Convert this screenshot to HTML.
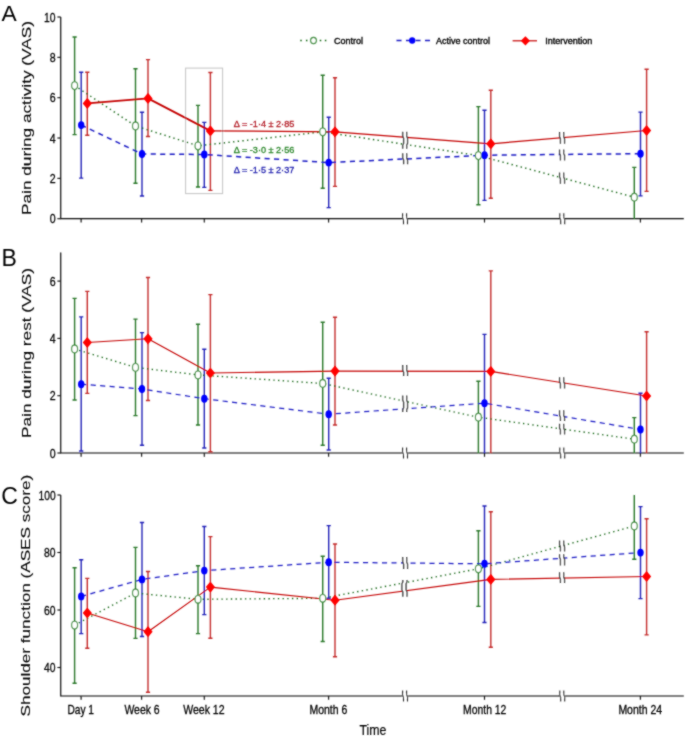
<!DOCTYPE html><html><head><meta charset="utf-8"><style>html,body{margin:0;padding:0;background:#fff;}svg{display:block;}text{font-family:"Liberation Sans",sans-serif;}</style></head><body>
<svg width="685" height="741" viewBox="0 0 685 741">
<defs><filter id="soft" x="0" y="0" width="685" height="741" filterUnits="userSpaceOnUse"><feConvolveMatrix order="3" kernelMatrix="1 2 1 2 12 2 1 2 1" divisor="24" edgeMode="none" preserveAlpha="false"/></filter></defs>
<rect width="685" height="741" fill="#fff"/>
<g filter="url(#soft)">
<text x="1.6" y="20.8" font-size="22.8" fill="#000" text-anchor="start">A</text>
<text x="1.5" y="266.1" font-size="23" fill="#000" text-anchor="start">B</text>
<text x="1.2" y="503.9" font-size="23" fill="#000" text-anchor="start">C</text>
<text transform="translate(30.6 215) rotate(-90)" x="0" y="0" font-size="13.2" fill="#000" stroke="#000" stroke-width="0.1" textLength="194" lengthAdjust="spacingAndGlyphs">Pain during activity (VAS)</text>
<text transform="translate(30.6 438) rotate(-90)" x="0" y="0" font-size="13.2" fill="#000" stroke="#000" stroke-width="0.1" textLength="170" lengthAdjust="spacingAndGlyphs">Pain during rest (VAS)</text>
<text transform="translate(30.4 716.5) rotate(-90)" x="0" y="0" font-size="13.2" fill="#000" stroke="#000" stroke-width="0.1" textLength="241.8" lengthAdjust="spacingAndGlyphs">Shoulder function (ASES score)</text>
<text x="49.7" y="223.4" font-size="13" fill="#000" text-anchor="start" textLength="5.9" lengthAdjust="spacingAndGlyphs" stroke="#000" stroke-width="0.3">0</text>
<path d="M57.4 218.7H60.7" stroke="#0a0a0a" stroke-width="1.1"/>
<text x="49.7" y="183.06" font-size="13" fill="#000" text-anchor="start" textLength="5.9" lengthAdjust="spacingAndGlyphs" stroke="#000" stroke-width="0.3">2</text>
<path d="M57.4 178.36H60.7" stroke="#0a0a0a" stroke-width="1.1"/>
<text x="49.7" y="142.72" font-size="13" fill="#000" text-anchor="start" textLength="5.9" lengthAdjust="spacingAndGlyphs" stroke="#000" stroke-width="0.3">4</text>
<path d="M57.4 138.02H60.7" stroke="#0a0a0a" stroke-width="1.1"/>
<text x="49.7" y="102.38" font-size="13" fill="#000" text-anchor="start" textLength="5.9" lengthAdjust="spacingAndGlyphs" stroke="#000" stroke-width="0.3">6</text>
<path d="M57.4 97.68H60.7" stroke="#0a0a0a" stroke-width="1.1"/>
<text x="49.7" y="62.04" font-size="13" fill="#000" text-anchor="start" textLength="5.9" lengthAdjust="spacingAndGlyphs" stroke="#000" stroke-width="0.3">8</text>
<path d="M57.4 57.34H60.7" stroke="#0a0a0a" stroke-width="1.1"/>
<text x="44.1" y="21.7" font-size="13" fill="#000" text-anchor="start" textLength="11.5" lengthAdjust="spacingAndGlyphs" stroke="#000" stroke-width="0.3">10</text>
<path d="M57.4 17H60.7" stroke="#0a0a0a" stroke-width="1.1"/>
<text x="49.7" y="457.7" font-size="13" fill="#000" text-anchor="start" textLength="5.9" lengthAdjust="spacingAndGlyphs" stroke="#000" stroke-width="0.3">0</text>
<path d="M57.4 453H60.7" stroke="#0a0a0a" stroke-width="1.1"/>
<text x="49.7" y="400.4" font-size="13" fill="#000" text-anchor="start" textLength="5.9" lengthAdjust="spacingAndGlyphs" stroke="#000" stroke-width="0.3">2</text>
<path d="M57.4 395.7H60.7" stroke="#0a0a0a" stroke-width="1.1"/>
<text x="49.7" y="343.1" font-size="13" fill="#000" text-anchor="start" textLength="5.9" lengthAdjust="spacingAndGlyphs" stroke="#000" stroke-width="0.3">4</text>
<path d="M57.4 338.4H60.7" stroke="#0a0a0a" stroke-width="1.1"/>
<text x="49.7" y="285.8" font-size="13" fill="#000" text-anchor="start" textLength="5.9" lengthAdjust="spacingAndGlyphs" stroke="#000" stroke-width="0.3">6</text>
<path d="M57.4 281.1H60.7" stroke="#0a0a0a" stroke-width="1.1"/>
<text x="44.1" y="672.2" font-size="13" fill="#000" text-anchor="start" textLength="11.5" lengthAdjust="spacingAndGlyphs" stroke="#000" stroke-width="0.3">40</text>
<path d="M57.4 667.5H60.7" stroke="#0a0a0a" stroke-width="1.1"/>
<text x="44.1" y="614.7" font-size="13" fill="#000" text-anchor="start" textLength="11.5" lengthAdjust="spacingAndGlyphs" stroke="#000" stroke-width="0.3">60</text>
<path d="M57.4 610H60.7" stroke="#0a0a0a" stroke-width="1.1"/>
<text x="44.1" y="557.2" font-size="13" fill="#000" text-anchor="start" textLength="11.5" lengthAdjust="spacingAndGlyphs" stroke="#000" stroke-width="0.3">80</text>
<path d="M57.4 552.5H60.7" stroke="#0a0a0a" stroke-width="1.1"/>
<text x="38.5" y="499.7" font-size="13" fill="#000" text-anchor="start" textLength="17.1" lengthAdjust="spacingAndGlyphs" stroke="#000" stroke-width="0.3">100</text>
<path d="M57.4 495H60.7" stroke="#0a0a0a" stroke-width="1.1"/>
<rect x="185.6" y="68.1" width="37" height="125.5" fill="none" stroke="#c4c4c4" stroke-width="1"/>
<path d="M60.7 17V218.7H683.8" stroke="#0a0a0a" stroke-width="1.2" fill="none"/>
<path d="M81.1 218.7V222.5" stroke="#0a0a0a" stroke-width="1.1"/>
<path d="M141.6 218.7V222.5" stroke="#0a0a0a" stroke-width="1.1"/>
<path d="M204.3 218.7V222.5" stroke="#0a0a0a" stroke-width="1.1"/>
<path d="M328.6 218.7V222.5" stroke="#0a0a0a" stroke-width="1.1"/>
<path d="M484.5 218.7V222.5" stroke="#0a0a0a" stroke-width="1.1"/>
<path d="M640.4 218.7V222.5" stroke="#0a0a0a" stroke-width="1.1"/>
<rect x="402.8" y="217.2" width="4.5" height="3" fill="#fff"/>
<path d="M402.6 213.2L402.6 217.7L403.5 219.7L403.5 224.2" stroke="#2a2a2a" stroke-width="1.1" fill="none"/>
<path d="M406.6 213.2L406.6 217.7L407.5 219.7L407.5 224.2" stroke="#2a2a2a" stroke-width="1.1" fill="none"/>
<rect x="560" y="217.2" width="4.5" height="3" fill="#fff"/>
<path d="M559.8 213.2L559.8 217.7L560.7 219.7L560.7 224.2" stroke="#2a2a2a" stroke-width="1.1" fill="none"/>
<path d="M563.8 213.2L563.8 217.7L564.7 219.7L564.7 224.2" stroke="#2a2a2a" stroke-width="1.1" fill="none"/>
<path d="M74.6 37V134.6M72.5 37H76.7M72.5 134.6H76.7" stroke="#2a782a" stroke-width="1.4" fill="none"/>
<path d="M81.2 72.2V178.1M79.1 72.2H83.3M79.1 178.1H83.3" stroke="#2424b8" stroke-width="1.4" fill="none"/>
<path d="M87.3 72.2V135.3M85.2 72.2H89.4M85.2 135.3H89.4" stroke="#c42c2c" stroke-width="1.4" fill="none"/>
<path d="M135.5 68.8V183.2M133.4 68.8H137.6M133.4 183.2H137.6" stroke="#2a782a" stroke-width="1.4" fill="none"/>
<path d="M142 112.3V196M139.9 112.3H144.1M139.9 196H144.1" stroke="#2424b8" stroke-width="1.4" fill="none"/>
<path d="M148 59.6V136.5M145.9 59.6H150.1M145.9 136.5H150.1" stroke="#c42c2c" stroke-width="1.4" fill="none"/>
<path d="M198 105.4V187M195.9 105.4H200.1M195.9 187H200.1" stroke="#2a782a" stroke-width="1.4" fill="none"/>
<path d="M204.3 122.4V187.4M202.2 122.4H206.4M202.2 187.4H206.4" stroke="#2424b8" stroke-width="1.4" fill="none"/>
<path d="M210.4 72.5V190.4M208.3 72.5H212.5M208.3 190.4H212.5" stroke="#c42c2c" stroke-width="1.4" fill="none"/>
<path d="M322.7 75.3V188.2M320.6 75.3H324.8M320.6 188.2H324.8" stroke="#2a782a" stroke-width="1.4" fill="none"/>
<path d="M328.7 117.2V207.6M326.6 117.2H330.8M326.6 207.6H330.8" stroke="#2424b8" stroke-width="1.4" fill="none"/>
<path d="M335 77.8V186.4M332.9 77.8H337.1M332.9 186.4H337.1" stroke="#c42c2c" stroke-width="1.4" fill="none"/>
<path d="M478.4 106.6V204.7M476.3 106.6H480.5M476.3 204.7H480.5" stroke="#2a782a" stroke-width="1.4" fill="none"/>
<path d="M484.5 110.2V200.4M482.4 110.2H486.6M482.4 200.4H486.6" stroke="#2424b8" stroke-width="1.4" fill="none"/>
<path d="M490.8 90.2V198.2M488.7 90.2H492.9M488.7 198.2H492.9" stroke="#c42c2c" stroke-width="1.4" fill="none"/>
<path d="M634.3 167.4V218.7M632.2 167.4H636.4" stroke="#2a782a" stroke-width="1.4" fill="none"/>
<path d="M640.5 112.1V195.9M638.4 112.1H642.6M638.4 195.9H642.6" stroke="#2424b8" stroke-width="1.4" fill="none"/>
<path d="M646.6 69.2V191.4M644.5 69.2H648.7M644.5 191.4H648.7" stroke="#c42c2c" stroke-width="1.4" fill="none"/>
<polyline points="74.6,85.6 135.5,126 198,145.8 322.7,131.8 478.4,155.6 634.3,197.2" fill="none" stroke="#146414" stroke-width="1.45" stroke-dasharray="1.35 3.35" stroke-linecap="butt"/>
<polyline points="81.2,125.1 142,154 204.3,154.5 328.7,162.6 484.5,155.2 640.5,153.7" fill="none" stroke="#1a1ac4" stroke-width="1.5" stroke-dasharray="5.1 4.4" stroke-linecap="butt"/>
<polyline points="87.3,103.4 148,98.4" fill="none" stroke="#c40000" stroke-width="1.8" stroke-linecap="round"/>
<polyline points="148,98.4 210.4,130.9" fill="none" stroke="#c40000" stroke-width="1.8" stroke-linecap="round"/>
<polyline points="210.4,130.9 335,131.8" fill="none" stroke="#c40000" stroke-width="1.25" stroke-linecap="round"/>
<polyline points="335,131.8 490.8,143.8" fill="none" stroke="#c40000" stroke-width="1.25" stroke-linecap="round"/>
<polyline points="490.8,143.8 646.6,130.5" fill="none" stroke="#c40000" stroke-width="1.25" stroke-linecap="round"/>
<rect x="403.2" y="132.2" width="3.8" height="16.1" fill="#fff"/>
<path d="M402.8 131.7V136.15L403.7 138.15V143.3L402.8 145.3V148.8" stroke="#161616" stroke-width="1.2" fill="none"/>
<path d="M406.6 131.7V136.15L407.5 138.15V143.3L406.6 145.3V148.8" stroke="#161616" stroke-width="1.2" fill="none"/>
<rect x="403.2" y="153.7" width="3.8" height="10" fill="#fff"/>
<path d="M402.8 153.2V158L403.7 160V164.2" stroke="#161616" stroke-width="1.2" fill="none"/>
<path d="M406.6 153.2V158L407.5 160V164.2" stroke="#161616" stroke-width="1.2" fill="none"/>
<rect x="560" y="132.6" width="4" height="10.7" fill="#fff"/>
<path d="M559.6 132.1V136.72L560.5 138.72V143.8" stroke="#161616" stroke-width="1.2" fill="none"/>
<path d="M563.6 132.1V136.72L564.5 138.72V143.8" stroke="#161616" stroke-width="1.2" fill="none"/>
<rect x="560" y="149.9" width="4" height="10.1" fill="#fff"/>
<path d="M559.6 149.4V153.45L560.5 155.45V160.5" stroke="#161616" stroke-width="1.2" fill="none"/>
<path d="M563.6 149.4V153.45L564.5 155.45V160.5" stroke="#161616" stroke-width="1.2" fill="none"/>
<rect x="560" y="173.1" width="4" height="10.2" fill="#fff"/>
<path d="M559.6 172.6V176.91L560.5 178.91V183.8" stroke="#161616" stroke-width="1.2" fill="none"/>
<path d="M563.6 172.6V176.91L564.5 178.91V183.8" stroke="#161616" stroke-width="1.2" fill="none"/>
<ellipse cx="74.6" cy="85.6" rx="2.95" ry="3.85" fill="#fff" stroke="#2f8a2f" stroke-width="1.1"/>
<ellipse cx="135.5" cy="126" rx="2.95" ry="3.85" fill="#fff" stroke="#2f8a2f" stroke-width="1.1"/>
<ellipse cx="198" cy="145.8" rx="2.95" ry="3.85" fill="#fff" stroke="#2f8a2f" stroke-width="1.1"/>
<ellipse cx="322.7" cy="131.8" rx="2.95" ry="3.85" fill="#fff" stroke="#2f8a2f" stroke-width="1.1"/>
<ellipse cx="478.4" cy="155.6" rx="2.95" ry="3.85" fill="#fff" stroke="#2f8a2f" stroke-width="1.1"/>
<ellipse cx="634.3" cy="197.2" rx="2.95" ry="3.85" fill="#fff" stroke="#2f8a2f" stroke-width="1.1"/>
<ellipse cx="81.2" cy="125.1" rx="3.2" ry="3.95" fill="#0000ff"/>
<ellipse cx="142" cy="154" rx="3.2" ry="3.95" fill="#0000ff"/>
<ellipse cx="204.3" cy="154.5" rx="3.2" ry="3.95" fill="#0000ff"/>
<ellipse cx="328.7" cy="162.6" rx="3.2" ry="3.95" fill="#0000ff"/>
<ellipse cx="484.5" cy="155.2" rx="3.2" ry="3.95" fill="#0000ff"/>
<ellipse cx="640.5" cy="153.7" rx="3.2" ry="3.95" fill="#0000ff"/>
<path d="M87.3 97.8L91.9 103.4L87.3 109L82.7 103.4Z" fill="#ff0000"/>
<path d="M148 92.8L152.6 98.4L148 104L143.4 98.4Z" fill="#ff0000"/>
<path d="M210.4 125.3L215 130.9L210.4 136.5L205.8 130.9Z" fill="#ff0000"/>
<path d="M335 126.2L339.6 131.8L335 137.4L330.4 131.8Z" fill="#ff0000"/>
<path d="M490.8 138.2L495.4 143.8L490.8 149.4L486.2 143.8Z" fill="#ff0000"/>
<path d="M646.6 124.9L651.2 130.5L646.6 136.1L642 130.5Z" fill="#ff0000"/>
<path d="M60.7 252.4V453H683.8" stroke="#0a0a0a" stroke-width="1.2" fill="none"/>
<path d="M81.1 453V456.8" stroke="#0a0a0a" stroke-width="1.1"/>
<path d="M141.6 453V456.8" stroke="#0a0a0a" stroke-width="1.1"/>
<path d="M204.3 453V456.8" stroke="#0a0a0a" stroke-width="1.1"/>
<path d="M328.6 453V456.8" stroke="#0a0a0a" stroke-width="1.1"/>
<path d="M484.5 453V456.8" stroke="#0a0a0a" stroke-width="1.1"/>
<path d="M640.4 453V456.8" stroke="#0a0a0a" stroke-width="1.1"/>
<rect x="402.8" y="451.5" width="4.5" height="3" fill="#fff"/>
<path d="M402.6 447.5L402.6 452L403.5 454L403.5 458.5" stroke="#2a2a2a" stroke-width="1.1" fill="none"/>
<path d="M406.6 447.5L406.6 452L407.5 454L407.5 458.5" stroke="#2a2a2a" stroke-width="1.1" fill="none"/>
<rect x="560" y="451.5" width="4.5" height="3" fill="#fff"/>
<path d="M559.8 447.5L559.8 452L560.7 454L560.7 458.5" stroke="#2a2a2a" stroke-width="1.1" fill="none"/>
<path d="M563.8 447.5L563.8 452L564.7 454L564.7 458.5" stroke="#2a2a2a" stroke-width="1.1" fill="none"/>
<path d="M74.6 298.4V400M72.5 298.4H76.7M72.5 400H76.7" stroke="#2a782a" stroke-width="1.4" fill="none"/>
<path d="M81.2 316.9V451M79.1 316.9H83.3M79.1 451H83.3" stroke="#2424b8" stroke-width="1.4" fill="none"/>
<path d="M87.3 291.4V393.4M85.2 291.4H89.4M85.2 393.4H89.4" stroke="#c42c2c" stroke-width="1.4" fill="none"/>
<path d="M135.5 319.1V415.6M133.4 319.1H137.6M133.4 415.6H137.6" stroke="#2a782a" stroke-width="1.4" fill="none"/>
<path d="M142 332.6V445.2M139.9 332.6H144.1M139.9 445.2H144.1" stroke="#2424b8" stroke-width="1.4" fill="none"/>
<path d="M148 277.5V400.5M145.9 277.5H150.1M145.9 400.5H150.1" stroke="#c42c2c" stroke-width="1.4" fill="none"/>
<path d="M198 324.2V425M195.9 324.2H200.1M195.9 425H200.1" stroke="#2a782a" stroke-width="1.4" fill="none"/>
<path d="M204.3 349.3V448M202.2 349.3H206.4M202.2 448H206.4" stroke="#2424b8" stroke-width="1.4" fill="none"/>
<path d="M210.4 294.6V451.7M208.3 294.6H212.5M208.3 451.7H212.5" stroke="#c42c2c" stroke-width="1.4" fill="none"/>
<path d="M322.7 322.2V445.2M320.6 322.2H324.8M320.6 445.2H324.8" stroke="#2a782a" stroke-width="1.4" fill="none"/>
<path d="M328.7 378.3V450M326.6 378.3H330.8M326.6 450H330.8" stroke="#2424b8" stroke-width="1.4" fill="none"/>
<path d="M335 317.2V425M332.9 317.2H337.1M332.9 425H337.1" stroke="#c42c2c" stroke-width="1.4" fill="none"/>
<path d="M478.4 381.2V453M476.3 381.2H480.5" stroke="#2a782a" stroke-width="1.4" fill="none"/>
<path d="M484.5 334.4V453M482.4 334.4H486.6" stroke="#2424b8" stroke-width="1.4" fill="none"/>
<path d="M490.8 270.9V453M488.7 270.9H492.9" stroke="#c42c2c" stroke-width="1.4" fill="none"/>
<path d="M634.3 417.6V453M632.2 417.6H636.4" stroke="#2a782a" stroke-width="1.4" fill="none"/>
<path d="M640.5 393.2V453M638.4 393.2H642.6" stroke="#2424b8" stroke-width="1.4" fill="none"/>
<path d="M646.6 331.7V453M644.5 331.7H648.7" stroke="#c42c2c" stroke-width="1.4" fill="none"/>
<polyline points="74.6,349 135.5,367.4 198,374.9 322.7,383.5 478.4,417.2 634.3,439.2" fill="none" stroke="#146414" stroke-width="1.35" stroke-dasharray="1.35 3.35" stroke-linecap="butt"/>
<polyline points="81.2,384.2 142,389 204.3,398.7 328.7,414.2 484.5,403.2 640.5,429.5" fill="none" stroke="#1a1ac4" stroke-width="1.2" stroke-dasharray="5.1 4.4" stroke-linecap="butt"/>
<polyline points="87.3,342.5 148,338.8" fill="none" stroke="#c40000" stroke-width="1.15" stroke-linecap="round"/>
<polyline points="148,338.8 210.4,373" fill="none" stroke="#c40000" stroke-width="1.15" stroke-linecap="round"/>
<polyline points="210.4,373 335,371.1" fill="none" stroke="#c40000" stroke-width="1.15" stroke-linecap="round"/>
<polyline points="335,371.1 490.8,371.4" fill="none" stroke="#c40000" stroke-width="1.15" stroke-linecap="round"/>
<polyline points="490.8,371.4 646.6,396" fill="none" stroke="#c40000" stroke-width="1.15" stroke-linecap="round"/>
<rect x="403.2" y="365.6" width="3.8" height="9.9" fill="#fff"/>
<path d="M402.8 365.1V370.23L403.7 372.23V376" stroke="#161616" stroke-width="1.2" fill="none"/>
<path d="M406.6 365.1V370.23L407.5 372.23V376" stroke="#161616" stroke-width="1.2" fill="none"/>
<rect x="403.2" y="395.9" width="3.8" height="15.6" fill="#fff"/>
<path d="M402.8 395.4V400.2L403.7 402.2V407.85L402.8 409.85V412" stroke="#161616" stroke-width="1.2" fill="none"/>
<path d="M406.6 395.4V400.2L407.5 402.2V407.85L406.6 409.85V412" stroke="#161616" stroke-width="1.2" fill="none"/>
<rect x="560" y="377.8" width="4" height="10.3" fill="#fff"/>
<path d="M559.6 377.3V381.64L560.5 383.64V388.6" stroke="#161616" stroke-width="1.2" fill="none"/>
<path d="M563.6 377.3V381.64L564.5 383.64V388.6" stroke="#161616" stroke-width="1.2" fill="none"/>
<rect x="560" y="410.7" width="4" height="9.8" fill="#fff"/>
<path d="M559.6 410.2V415.27L560.5 417.27V421" stroke="#161616" stroke-width="1.2" fill="none"/>
<path d="M563.6 410.2V415.27L564.5 417.27V421" stroke="#161616" stroke-width="1.2" fill="none"/>
<rect x="560" y="424.2" width="4" height="9.8" fill="#fff"/>
<path d="M559.6 423.7V428L560.5 430V434.5" stroke="#161616" stroke-width="1.2" fill="none"/>
<path d="M563.6 423.7V428L564.5 430V434.5" stroke="#161616" stroke-width="1.2" fill="none"/>
<ellipse cx="74.6" cy="349" rx="2.95" ry="3.85" fill="#fff" stroke="#2f8a2f" stroke-width="1.1"/>
<ellipse cx="135.5" cy="367.4" rx="2.95" ry="3.85" fill="#fff" stroke="#2f8a2f" stroke-width="1.1"/>
<ellipse cx="198" cy="374.9" rx="2.95" ry="3.85" fill="#fff" stroke="#2f8a2f" stroke-width="1.1"/>
<ellipse cx="322.7" cy="383.5" rx="2.95" ry="3.85" fill="#fff" stroke="#2f8a2f" stroke-width="1.1"/>
<ellipse cx="478.4" cy="417.2" rx="2.95" ry="3.85" fill="#fff" stroke="#2f8a2f" stroke-width="1.1"/>
<ellipse cx="634.3" cy="439.2" rx="2.95" ry="3.85" fill="#fff" stroke="#2f8a2f" stroke-width="1.1"/>
<ellipse cx="81.2" cy="384.2" rx="3.2" ry="3.95" fill="#0000ff"/>
<ellipse cx="142" cy="389" rx="3.2" ry="3.95" fill="#0000ff"/>
<ellipse cx="204.3" cy="398.7" rx="3.2" ry="3.95" fill="#0000ff"/>
<ellipse cx="328.7" cy="414.2" rx="3.2" ry="3.95" fill="#0000ff"/>
<ellipse cx="484.5" cy="403.2" rx="3.2" ry="3.95" fill="#0000ff"/>
<ellipse cx="640.5" cy="429.5" rx="3.2" ry="3.95" fill="#0000ff"/>
<path d="M87.3 336.9L91.9 342.5L87.3 348.1L82.7 342.5Z" fill="#ff0000"/>
<path d="M148 333.2L152.6 338.8L148 344.4L143.4 338.8Z" fill="#ff0000"/>
<path d="M210.4 367.4L215 373L210.4 378.6L205.8 373Z" fill="#ff0000"/>
<path d="M335 365.5L339.6 371.1L335 376.7L330.4 371.1Z" fill="#ff0000"/>
<path d="M490.8 365.8L495.4 371.4L490.8 377L486.2 371.4Z" fill="#ff0000"/>
<path d="M646.6 390.4L651.2 396L646.6 401.6L642 396Z" fill="#ff0000"/>
<path d="M60.7 495V696H683.8" stroke="#0a0a0a" stroke-width="1.2" fill="none"/>
<path d="M81.1 696V699.8" stroke="#0a0a0a" stroke-width="1.1"/>
<path d="M141.6 696V699.8" stroke="#0a0a0a" stroke-width="1.1"/>
<path d="M204.3 696V699.8" stroke="#0a0a0a" stroke-width="1.1"/>
<path d="M328.6 696V699.8" stroke="#0a0a0a" stroke-width="1.1"/>
<path d="M484.5 696V699.8" stroke="#0a0a0a" stroke-width="1.1"/>
<path d="M640.4 696V699.8" stroke="#0a0a0a" stroke-width="1.1"/>
<rect x="402.8" y="694.5" width="4.5" height="3" fill="#fff"/>
<path d="M402.6 690.5L402.6 695L403.5 697L403.5 701.5" stroke="#2a2a2a" stroke-width="1.1" fill="none"/>
<path d="M406.6 690.5L406.6 695L407.5 697L407.5 701.5" stroke="#2a2a2a" stroke-width="1.1" fill="none"/>
<rect x="560" y="694.5" width="4.5" height="3" fill="#fff"/>
<path d="M559.8 690.5L559.8 695L560.7 697L560.7 701.5" stroke="#2a2a2a" stroke-width="1.1" fill="none"/>
<path d="M563.8 690.5L563.8 695L564.7 697L564.7 701.5" stroke="#2a2a2a" stroke-width="1.1" fill="none"/>
<path d="M74.6 567.7V683.2M72.5 567.7H76.7M72.5 683.2H76.7" stroke="#2a782a" stroke-width="1.4" fill="none"/>
<path d="M81.2 559.7V633.6M79.1 559.7H83.3M79.1 633.6H83.3" stroke="#2424b8" stroke-width="1.4" fill="none"/>
<path d="M87.3 578.4V648.2M85.2 578.4H89.4M85.2 648.2H89.4" stroke="#c42c2c" stroke-width="1.4" fill="none"/>
<path d="M135.5 547.4V638.4M133.4 547.4H137.6M133.4 638.4H137.6" stroke="#2a782a" stroke-width="1.4" fill="none"/>
<path d="M142 522.5V636.5M139.9 522.5H144.1M139.9 636.5H144.1" stroke="#2424b8" stroke-width="1.4" fill="none"/>
<path d="M148 571.5V692.3M145.9 571.5H150.1M145.9 692.3H150.1" stroke="#c42c2c" stroke-width="1.4" fill="none"/>
<path d="M198 565.8V633.6M195.9 565.8H200.1M195.9 633.6H200.1" stroke="#2a782a" stroke-width="1.4" fill="none"/>
<path d="M204.3 526.5V614.6M202.2 526.5H206.4M202.2 614.6H206.4" stroke="#2424b8" stroke-width="1.4" fill="none"/>
<path d="M210.4 536.6V638.2M208.3 536.6H212.5M208.3 638.2H212.5" stroke="#c42c2c" stroke-width="1.4" fill="none"/>
<path d="M322.7 556.3V641.5M320.6 556.3H324.8M320.6 641.5H324.8" stroke="#2a782a" stroke-width="1.4" fill="none"/>
<path d="M328.7 525.6V598.3M326.6 525.6H330.8M326.6 598.3H330.8" stroke="#2424b8" stroke-width="1.4" fill="none"/>
<path d="M335 544V656.8M332.9 544H337.1M332.9 656.8H337.1" stroke="#c42c2c" stroke-width="1.4" fill="none"/>
<path d="M478.4 530.8V606.4M476.3 530.8H480.5M476.3 606.4H480.5" stroke="#2a782a" stroke-width="1.4" fill="none"/>
<path d="M484.5 506V622.5M482.4 506H486.6M482.4 622.5H486.6" stroke="#2424b8" stroke-width="1.4" fill="none"/>
<path d="M490.8 511.8V647.3M488.7 511.8H492.9M488.7 647.3H492.9" stroke="#c42c2c" stroke-width="1.4" fill="none"/>
<path d="M634.3 495V559.3M632.2 559.3H636.4" stroke="#2a782a" stroke-width="1.4" fill="none"/>
<path d="M640.5 506.6V598.6M638.4 506.6H642.6M638.4 598.6H642.6" stroke="#2424b8" stroke-width="1.4" fill="none"/>
<path d="M646.6 518.7V634.9M644.5 518.7H648.7M644.5 634.9H648.7" stroke="#c42c2c" stroke-width="1.4" fill="none"/>
<polyline points="74.6,625.1 135.5,593 198,599.3 322.7,598.3 478.4,568.8 634.3,526" fill="none" stroke="#146414" stroke-width="1.35" stroke-dasharray="1.35 3.35" stroke-linecap="butt"/>
<polyline points="81.2,596.4 142,579.4 204.3,570.6 328.7,562.3 484.5,563.8 640.5,552.6" fill="none" stroke="#1a1ac4" stroke-width="1.25" stroke-dasharray="5.1 4.4" stroke-linecap="butt"/>
<polyline points="87.3,613 148,631.7" fill="none" stroke="#c40000" stroke-width="1.15" stroke-linecap="round"/>
<polyline points="148,631.7 210.4,587.1" fill="none" stroke="#c40000" stroke-width="1.15" stroke-linecap="round"/>
<polyline points="210.4,587.1 335,600.2" fill="none" stroke="#c40000" stroke-width="1.15" stroke-linecap="round"/>
<polyline points="335,600.2 490.8,579.4" fill="none" stroke="#c40000" stroke-width="1.15" stroke-linecap="round"/>
<polyline points="490.8,579.4 646.6,576.5" fill="none" stroke="#c40000" stroke-width="1.15" stroke-linecap="round"/>
<rect x="403.2" y="557.5" width="3.8" height="10.9" fill="#fff"/>
<path d="M402.8 557V562.03L403.7 564.03V568.9" stroke="#161616" stroke-width="1.2" fill="none"/>
<path d="M406.6 557V562.03L407.5 564.03V568.9" stroke="#161616" stroke-width="1.2" fill="none"/>
<rect x="402.4" y="580.5" width="4" height="15.7" fill="#fff"/>
<path d="M402.9 580V581.8L402 583.8V589.92L402.9 591.92V596.7" stroke="#161616" stroke-width="1.2" fill="none"/>
<path d="M406.9 580V581.8L406 583.8V589.92L406.9 591.92V596.7" stroke="#161616" stroke-width="1.2" fill="none"/>
<rect x="560" y="541.1" width="4" height="9.9" fill="#fff"/>
<path d="M559.6 540.6V544.85L560.5 546.85V551.5" stroke="#161616" stroke-width="1.2" fill="none"/>
<path d="M563.6 540.6V544.85L564.5 546.85V551.5" stroke="#161616" stroke-width="1.2" fill="none"/>
<rect x="560" y="554.8" width="4" height="10.3" fill="#fff"/>
<path d="M559.6 554.3V557.24L560.5 559.24V565.6" stroke="#161616" stroke-width="1.2" fill="none"/>
<path d="M563.6 554.3V557.24L564.5 559.24V565.6" stroke="#161616" stroke-width="1.2" fill="none"/>
<rect x="560" y="572.8" width="4" height="9.8" fill="#fff"/>
<path d="M559.6 572.3V577.07L560.5 579.07V583.1" stroke="#161616" stroke-width="1.2" fill="none"/>
<path d="M563.6 572.3V577.07L564.5 579.07V583.1" stroke="#161616" stroke-width="1.2" fill="none"/>
<ellipse cx="74.6" cy="625.1" rx="2.95" ry="3.85" fill="#fff" stroke="#2f8a2f" stroke-width="1.1"/>
<ellipse cx="135.5" cy="593" rx="2.95" ry="3.85" fill="#fff" stroke="#2f8a2f" stroke-width="1.1"/>
<ellipse cx="198" cy="599.3" rx="2.95" ry="3.85" fill="#fff" stroke="#2f8a2f" stroke-width="1.1"/>
<ellipse cx="322.7" cy="598.3" rx="2.95" ry="3.85" fill="#fff" stroke="#2f8a2f" stroke-width="1.1"/>
<ellipse cx="478.4" cy="568.8" rx="2.95" ry="3.85" fill="#fff" stroke="#2f8a2f" stroke-width="1.1"/>
<ellipse cx="634.3" cy="526" rx="2.95" ry="3.85" fill="#fff" stroke="#2f8a2f" stroke-width="1.1"/>
<ellipse cx="81.2" cy="596.4" rx="3.2" ry="3.95" fill="#0000ff"/>
<ellipse cx="142" cy="579.4" rx="3.2" ry="3.95" fill="#0000ff"/>
<ellipse cx="204.3" cy="570.6" rx="3.2" ry="3.95" fill="#0000ff"/>
<ellipse cx="328.7" cy="562.3" rx="3.2" ry="3.95" fill="#0000ff"/>
<ellipse cx="484.5" cy="563.8" rx="3.2" ry="3.95" fill="#0000ff"/>
<ellipse cx="640.5" cy="552.6" rx="3.2" ry="3.95" fill="#0000ff"/>
<path d="M87.3 607.4L91.9 613L87.3 618.6L82.7 613Z" fill="#ff0000"/>
<path d="M148 626.1L152.6 631.7L148 637.3L143.4 631.7Z" fill="#ff0000"/>
<path d="M210.4 581.5L215 587.1L210.4 592.7L205.8 587.1Z" fill="#ff0000"/>
<path d="M335 594.6L339.6 600.2L335 605.8L330.4 600.2Z" fill="#ff0000"/>
<path d="M490.8 573.8L495.4 579.4L490.8 585L486.2 579.4Z" fill="#ff0000"/>
<path d="M646.6 570.9L651.2 576.5L646.6 582.1L642 576.5Z" fill="#ff0000"/>
<text x="233.8" y="127.3" font-size="9" fill="#b41e28" text-anchor="start" textLength="60.5" lengthAdjust="spacingAndGlyphs" stroke="#b41e28" stroke-width="0.3">&#916; = -1&#183;4 &#177; 2&#183;85</text>
<text x="233.8" y="152.7" font-size="9" fill="#2a862a" text-anchor="start" textLength="60.5" lengthAdjust="spacingAndGlyphs" stroke="#2a862a" stroke-width="0.3">&#916; = -3&#183;0 &#177; 2&#183;56</text>
<text x="233.8" y="172.6" font-size="9" fill="#2626b0" text-anchor="start" textLength="60.5" lengthAdjust="spacingAndGlyphs" stroke="#2626b0" stroke-width="0.3">&#916; = -1&#183;5 &#177; 2&#183;37</text>
<rect x="300.25" y="39.75" width="1.5" height="1.5" fill="#146414"/>
<rect x="305.95" y="39.75" width="1.5" height="1.5" fill="#146414"/>
<rect x="319.75" y="39.75" width="1.5" height="1.5" fill="#146414"/>
<rect x="324.85" y="39.75" width="1.5" height="1.5" fill="#146414"/>
<ellipse cx="313.5" cy="40.5" rx="2.9" ry="3.1" fill="#fff" stroke="#2f8a2f" stroke-width="1.1"/>
<text x="334" y="43.9" font-size="9" fill="#000" text-anchor="start" stroke="#000" stroke-width="0.35">Control</text>
<path d="M396.5 40.5H431" stroke="#1a1ac4" stroke-width="1.4" stroke-dasharray="5 4.5"/>
<ellipse cx="412.2" cy="40.5" rx="3.1" ry="3.2" fill="#0000ff"/>
<text x="435.9" y="43.9" font-size="9" fill="#000" text-anchor="start" stroke="#000" stroke-width="0.35">Active control</text>
<path d="M512.6 40.8H537" stroke="#c40000" stroke-width="1.2"/>
<path d="M525.4 36.2L530 40.8L525.4 45.4L520.8 40.8Z" fill="#ff0000"/>
<text x="545.3" y="43.9" font-size="9" fill="#000" text-anchor="start" stroke="#000" stroke-width="0.35">Intervention</text>
<text x="67.4" y="713.8" font-size="13" fill="#000" text-anchor="start" textLength="26.6" lengthAdjust="spacingAndGlyphs" stroke="#000" stroke-width="0.3">Day 1</text>
<text x="124.4" y="713.8" font-size="13" fill="#000" text-anchor="start" textLength="35.3" lengthAdjust="spacingAndGlyphs" stroke="#000" stroke-width="0.3">Week 6</text>
<text x="183.2" y="713.8" font-size="13" fill="#000" text-anchor="start" textLength="41.4" lengthAdjust="spacingAndGlyphs" stroke="#000" stroke-width="0.3">Week 12</text>
<text x="309.5" y="713.8" font-size="13" fill="#000" text-anchor="start" textLength="37.8" lengthAdjust="spacingAndGlyphs" stroke="#000" stroke-width="0.3">Month 6</text>
<text x="463.1" y="713.8" font-size="13" fill="#000" text-anchor="start" textLength="43.3" lengthAdjust="spacingAndGlyphs" stroke="#000" stroke-width="0.3">Month 12</text>
<text x="618.4" y="713.8" font-size="13" fill="#000" text-anchor="start" textLength="43.7" lengthAdjust="spacingAndGlyphs" stroke="#000" stroke-width="0.3">Month 24</text>
<text x="359.4" y="734.5" font-size="15.2" fill="#000" text-anchor="start" textLength="27" lengthAdjust="spacingAndGlyphs" stroke="#000" stroke-width="0.2">Time</text>
</g></svg></body></html>
